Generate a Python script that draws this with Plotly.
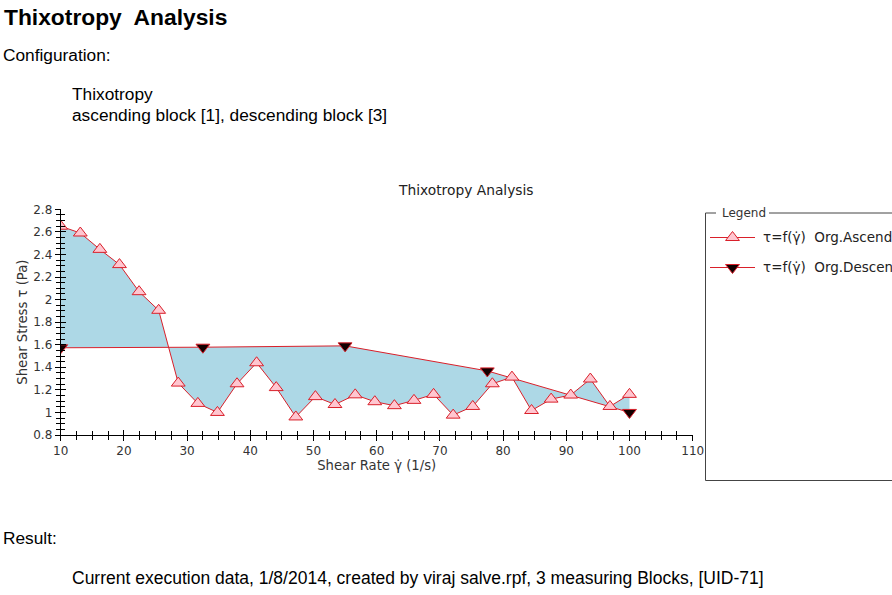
import plotly.graph_objects as go

# ---- data ----
asc_x = [10.0, 13.1, 16.2, 19.3, 22.4, 25.5, 28.6, 31.7, 34.8, 37.9,
         41.0, 44.1, 47.2, 50.3, 53.4, 56.6, 59.7, 62.8, 65.9, 69.0,
         72.1, 75.2, 78.3, 81.4, 84.5, 87.6, 90.7, 93.8, 96.9, 100.0]
asc_y = [2.65, 2.59, 2.445, 2.31, 2.07, 1.905, 1.26, 1.08, 1.0, 1.254,
         1.44, 1.22, 0.96, 1.14, 1.07, 1.156, 1.095, 1.06, 1.107, 1.16,
         0.976, 1.053, 1.254, 1.313, 1.017, 1.118, 1.154, 1.296, 1.053, 1.16]
desc_x = [10.0, 32.5, 55.0, 77.5, 100.0]
desc_y = [1.573, 1.578, 1.59, 1.368, 1.0]

W, H = 892, 595
RED = "#D9202A"
TICKFONT = dict(family="DejaVu Sans", size=12, color="#333333")
TITLEFONT = dict(family="DejaVu Sans", size=13.2, color="#333333")
MSIZE = 12

def px(x):
    return x / W

def py(y):
    return 1 - y / H

fig = go.Figure()

# filled area between ascending and descending curves
fig.add_trace(go.Scatter(
    x=asc_x + desc_x[::-1], y=asc_y + desc_y[::-1],
    mode="lines", fill="toself", fillcolor="#ADD8E6",
    line=dict(width=0), hoverinfo="skip", showlegend=False))

fig.add_trace(go.Scatter(
    x=desc_x, y=desc_y, mode="lines+markers", name="τ=f(γ̇)  Org.Descending",
    line=dict(color=RED, width=1),
    marker=dict(symbol="triangle-down", size=MSIZE, color="#120000",
                line=dict(color=RED, width=1)),
    showlegend=False))

fig.add_trace(go.Scatter(
    x=asc_x, y=asc_y, mode="lines+markers", name="τ=f(γ̇)  Org.Ascending",
    line=dict(color=RED, width=1),
    marker=dict(symbol="triangle-up", size=MSIZE, color="#FFC6D0",
                line=dict(color=RED, width=1)),
    showlegend=False))

# invisible trace for overlay axes (crossing ticks)
fig.add_trace(go.Scatter(x=[10], y=[0.8], xaxis="x2", yaxis="y2",
                         mode="markers", marker=dict(opacity=0),
                         hoverinfo="skip", showlegend=False))

# legend markers on a pixel overlay axis
fig.add_trace(go.Scatter(x=[732.5], y=[237.5], xaxis="x3", yaxis="y3",
                         mode="markers",
                         marker=dict(symbol="triangle-up", size=MSIZE, color="#FFC6D0",
                                     line=dict(color=RED, width=1)),
                         hoverinfo="skip", showlegend=False))
fig.add_trace(go.Scatter(x=[732.5], y=[267.5], xaxis="x3", yaxis="y3",
                         mode="markers",
                         marker=dict(symbol="triangle-down", size=MSIZE, color="#120000",
                                     line=dict(color=RED, width=1)),
                         hoverinfo="skip", showlegend=False))

xdom = [px(60.7), px(692.7)]
ydom = [py(435.0), py(209.3)]

common_x = dict(range=[10, 110], dtick=10, tick0=10, domain=xdom, automargin=False,
                showgrid=False, zeroline=False, showline=True,
                linecolor="black", linewidth=1, ticklen=5, tickcolor="black")
common_y = dict(range=[0.8, 2.8], dtick=0.2, tick0=0.8, domain=ydom, automargin=False,
                showgrid=False, zeroline=False, showline=True,
                linecolor="black", linewidth=1, ticklen=5, tickcolor="black")

fig.update_layout(
    width=W, height=H, autosize=False,
    margin=dict(l=0, r=0, t=0, b=0, autoexpand=False),
    paper_bgcolor="white", plot_bgcolor="rgba(0,0,0,0)",
    showlegend=False,
    xaxis=dict(**common_x, ticks="outside", tickfont=TICKFONT, anchor="y",
               minor=dict(dtick=2.5, ticklen=4, tickcolor="black", ticks="outside"),
               title=dict(text="Shear Rate γ̇ (1/s)", font=TITLEFONT, standoff=2)),
    yaxis=dict(**common_y, ticks="outside", tickfont=TICKFONT, anchor="x",
               minor=dict(dtick=0.05, ticklen=4, tickcolor="black", ticks="outside"),
               title=dict(text="Shear Stress τ (Pa)", font=TITLEFONT, standoff=2)),
    xaxis2=dict(**common_x, ticks="inside", overlaying="x", anchor="y2",
                showticklabels=False,
                minor=dict(dtick=2.5, ticklen=4, tickcolor="black", ticks="inside")),
    yaxis2=dict(**common_y, ticks="inside", overlaying="y", anchor="x2",
                showticklabels=False,
                minor=dict(dtick=0.05, ticklen=4, tickcolor="black", ticks="inside")),
    xaxis3=dict(range=[0, W], domain=[0, 1], visible=False, fixedrange=True,
                automargin=False),
    yaxis3=dict(range=[H, 0], domain=[0, 1], visible=False, fixedrange=True,
                anchor="x3", automargin=False),
)

FAM = "Liberation Sans, Arial, sans-serif"
PAGE = dict(family=FAM, size=17.3, color="black")
annots = [
    dict(text="<b>Thixotropy  Analysis</b>", x=px(2), y=py(17),
         font=dict(family=FAM, size=22.8, color="black")),
    dict(text="Configuration:", x=px(1), y=py(55), font=PAGE),
    dict(text="Thixotropy", x=px(70), y=py(94), font=PAGE),
    dict(text="ascending block [1], descending block [3]", x=px(70), y=py(115), font=PAGE),
    dict(text="Result:", x=px(1), y=py(538), font=PAGE),
    dict(text="Current execution data, 1/8/2014, created by viraj salve.rpf, 3 measuring Blocks, [UID-71]",
         x=px(70), y=py(578), font=dict(family=FAM, size=17.5, color="black")),
    dict(text="Legend", x=px(720), y=py(212.5),
         font=dict(family="DejaVu Sans", size=12, color="#333333")),
    dict(text="τ=f(γ̇)  Org.Ascending", x=px(761), y=py(237),
         font=dict(family="DejaVu Sans", size=13.5, color="#222222")),
    dict(text="τ=f(γ̇)  Org.Descending", x=px(761), y=py(267),
         font=dict(family="DejaVu Sans", size=13.5, color="#222222")),
]
for a in annots:
    fig.add_annotation(xref="paper", yref="paper", xanchor="left", yanchor="middle",
                       showarrow=False, **a)
fig.add_annotation(text="Thixotropy Analysis", xref="paper", yref="paper",
                   x=px(466), y=py(190), xanchor="center", yanchor="middle",
                   showarrow=False, font=dict(family="DejaVu Sans", size=13.8, color="#222222"))

BOX = dict(color="#444444", width=1)
shapes = [
    dict(type="line", x0=px(705.5), x1=px(705.5), y0=py(213), y1=py(480.5), line=BOX),
    dict(type="line", x0=px(705.5), x1=px(910), y0=py(480.5), y1=py(480.5), line=BOX),
    dict(type="line", x0=px(705.5), x1=px(716), y0=py(213), y1=py(213), line=BOX),
    dict(type="line", x0=px(769), x1=px(910), y0=py(213), y1=py(213), line=BOX),
    dict(type="line", x0=px(710), x1=px(755), y0=py(237.5), y1=py(237.5), line=dict(color=RED, width=1)),
    dict(type="line", x0=px(710), x1=px(755), y0=py(267.5), y1=py(267.5), line=dict(color=RED, width=1)),
]
for s in shapes:
    fig.add_shape(xref="paper", yref="paper", layer="below", **s)

fig.write_html("out.html",
               config={"displayModeBar": False},
               post_script="document.body.style.margin='0px';"
                           "document.body.style.overflow='hidden';")
